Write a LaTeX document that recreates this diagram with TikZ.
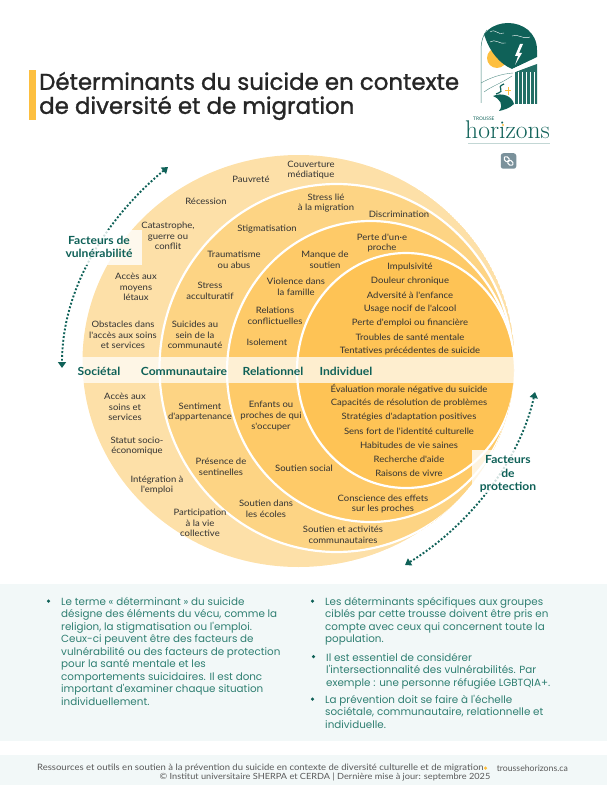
\documentclass[tikz,border=0pt]{standalone}
\usepackage{fontspec}
\usetikzlibrary{arrows.meta}
\newfontfamily\lblfont[FakeStretch=1.08]{Lato}
\newfontfamily\footfont{Lato}
\newfontfamily\titlefont[FakeBold=1.2]{Poppins}
\newfontfamily\bodyfont{Poppins}
\definecolor{teal1}{HTML}{0F6158}
\definecolor{bodyteal}{HTML}{2F7F72}
\definecolor{ringA}{HTML}{FDE0A8}
\definecolor{ringB}{HTML}{FDD484}
\definecolor{ringC}{HTML}{FECA68}
\definecolor{ringD}{HTML}{FEC355}
\definecolor{panel}{HTML}{F2F8F8}
\definecolor{orangebar}{HTML}{FDBF3F}
\definecolor{linkgrey}{HTML}{7A919B}
\tikzset{
  lbl/.style={font=\lblfont\fontsize{8.8}{10.6}\selectfont,align=center,text=black!80,inner sep=0pt},
  lvl/.style={font=\lblfont\bfseries\fontsize{11.2}{13}\selectfont,text=teal1,inner sep=0pt},
  fac/.style={font=\lblfont\bfseries\fontsize{11.2}{13.2}\selectfont,align=center,text=teal1,inner sep=0pt},
  para/.style={font=\bodyfont\fontsize{10.35}{12.5}\selectfont,align=left,text=bodyteal,inner sep=0pt,anchor=north west},
  bul/.style={circle,fill=teal1,inner sep=0pt,minimum size=3.5pt},
  foot/.style={font=\lblfont\fontsize{8.8}{9.5}\selectfont,text=black!65,inner sep=0pt},
  ringline/.style={draw=white,line width=2.2pt},
  dotarrow/.style={teal1,line width=1.9pt,dash pattern=on 1.9pt off 1.9pt,{Triangle[length=6pt,width=8pt]}-{Triangle[length=6pt,width=8pt]}},
}
\begin{document}
\begin{tikzpicture}[x=1pt,y=-1pt]
\useasboundingbox (0,0) rectangle (607,786);
% panels
\fill[panel] (0,584) rectangle (607,741);
\fill[panel] (0,755) rectangle (607,785);
% title
\fill[orangebar] (29,70) rectangle (36,120);
\node[font=\titlefont\fontsize{22.9}{24}\selectfont,align=left,text=black!85,inner sep=0pt,anchor=west] (title) at (39,96) {Déterminants du suicide en contexte\\de diversité et de migration};
% disc
\begin{scope}
\clip (298.5,361) ellipse [x radius=216pt,y radius=206pt];
\fill[ringA] (298.5,361) ellipse [x radius=216pt,y radius=206pt];
\path[fill=ringB,ringline] (336.5,368) ellipse [x radius=177pt,y radius=184pt];
\path[fill=ringC,ringline] (370.5,371.5) ellipse [x radius=143.5pt,y radius=150.5pt];
\path[fill=ringD,ringline] (406,370.5) ellipse [x radius=109pt,y radius=117.5pt];
\end{scope}
\fill[white,opacity=.72] (82,357) rectangle (515,383);
% arrows
\coordinate (va) at (168,167);
\coordinate (vb) at (62,368);
\coordinate (pa) at (535,392);
\coordinate (pb) at (405,565);
\draw[dotarrow] (va) .. controls (110,215) and (62,285) .. (vb);
\draw[dotarrow] (pa) .. controls (520,460) and (470,525) .. (pb);
\fill[white,opacity=.8] (60,230) rectangle (142,265);
\fill[white,opacity=.8] (472,450) rectangle (545,493);
\node[fac] (fv) at (99,247) {Facteurs de\\vulnérabilité};
\node[fac] (fp) at (508,474) {Facteurs\\de\\protection};
% levels
\node[lvl] (l1) at (99,371) {Sociétal};
\node[lvl] (l2) at (184,371) {Communautaire};
\node[lvl] (l3) at (273,371) {Relationnel};
\node[lvl] (l4) at (346,371) {Individuel};
% upper labels
\node[lbl] (a1) at (311,170) {Couverture\\médiatique};
\node[lbl] (a2) at (251,179) {Pauvreté};
\node[lbl] (a3) at (206,201) {Récession};
\node[lbl] (a4) at (168,236) {Catastrophe,\\guerre ou\\conflit};
\node[lbl] (a5) at (136,287) {Accès aux\\moyens\\létaux};
\node[lbl] (a6) at (123,335) {Obstacles dans\\l'accès aux soins\\et services};
\node[lbl] (b1) at (326,203) {Stress lié\\à la migration};
\node[lbl] (b2) at (399,214) {Discrimination};
\node[lbl] (b3) at (267,229) {Stigmatisation};
\node[lbl] (b4) at (234,260) {Traumatisme\\ou abus};
\node[lbl] (b5) at (210,291) {Stress\\acculturatif};
\node[lbl] (b6) at (195,335) {Suicides au\\sein de la\\communauté};
\node[lbl] (c1) at (382,243) {Perte d'un·e\\proche};
\node[lbl] (c2) at (325,260) {Manque de\\soutien};
\node[lbl] (c3) at (296,287) {Violence dans\\la famille};
\node[lbl] (c4) at (275,316) {Relations\\conflictuelles};
\node[lbl] (c5) at (267,342) {Isolement};
\node[lbl] (d1) at (410,267) {Impulsivité};
\node[lbl] (d2) at (410,281) {Douleur chronique};
\node[lbl] (d3) at (410,295) {Adversité à l'enfance};
\node[lbl] (d4) at (410,309) {Usage nocif de l'alcool};
\node[lbl] (d5) at (410,323) {Perte d'emploi ou financière};
\node[lbl] (d6) at (410,337) {Troubles de santé mentale};
\node[lbl] (d7) at (410,351) {Tentatives précédentes de suicide};
% lower labels
\node[lbl] (e1) at (125,407) {Accès aux\\soins et\\services};
\node[lbl] (e2) at (137,446) {Statut socio-\\économique};
\node[lbl] (e3) at (157,485) {Intégration à\\l'emploi};
\node[lbl] (e4) at (200,523) {Participation\\à la vie\\collective};
\node[lbl] (f1) at (200,412) {Sentiment\\d'appartenance};
\node[lbl] (f2) at (221,467) {Présence de\\sentinelles};
\node[lbl] (f3) at (266,509) {Soutien dans\\les écoles};
\node[lbl] (f4) at (343,535) {Soutien et activités\\communautaires};
\node[lbl] (g1) at (271,416) {Enfants ou\\proches de qui\\s'occuper};
\node[lbl] (g2) at (304,468) {Soutien social};
\node[lbl] (g3) at (383,504) {Conscience des effets\\sur les proches};
\node[lbl] (h1) at (409,389) {Évaluation morale négative du suicide};
\node[lbl] (h2) at (409,403) {Capacités de résolution de problèmes};
\node[lbl] (h3) at (409,417) {Stratégies d'adaptation positives};
\node[lbl] (h4) at (409,431) {Sens fort de l'identité culturelle};
\node[lbl] (h5) at (409,445) {Habitudes de vie saines};
\node[lbl] (h6) at (409,459) {Recherche d'aide};
\node[lbl] (h7) at (409,473) {Raisons de vivre};
% paragraphs
\node[bul] (b-1) at (48.5,601) {};
\node[para] (p1) at (61,597) {Le terme « déterminant » du suicide\\désigne des éléments du vécu, comme la\\religion, la stigmatisation ou l'emploi.\\Ceux-ci peuvent être des facteurs de\\vulnérabilité ou des facteurs de protection\\pour la santé mentale et les\\comportements suicidaires. Il est donc\\important d'examiner chaque situation\\individuellement.};
\node[bul] (b-2) at (312.5,601) {};
\node[para] (p2) at (325,597) {Les déterminants spécifiques aux groupes\\ciblés par cette trousse doivent être pris en\\compte avec ceux qui concernent toute la\\population.};
\node[bul] (b-3) at (313.5,656.5) {};
\node[para] (p3) at (326,653) {Il est essentiel de considérer\\l'intersectionnalité des vulnérabilités. Par\\exemple : une personne réfugiée LGBTQIA+.};
\node[bul] (b-4) at (312.5,699) {};
\node[para] (p4) at (325,695) {La prévention doit se faire à l'échelle\\sociétale, communautaire, relationnelle et\\individuelle.};
% footer
\node[foot,anchor=west] (ft1) at (37,768) {Ressources et outils en soutien à la prévention du suicide en contexte de diversité culturelle et de migration};
\node[circle,fill=orangebar,inner sep=0pt,minimum size=3.5pt] (ftdot) at (485.5,768) {};
\node[foot,font=\footfont\fontsize{8.7}{9.5}\selectfont,anchor=east] (ft2) at (568,768) {troussehorizons.ca};
\node[foot,font=\lblfont\fontsize{8.5}{9.5}\selectfont] (ft3) at (325,777.5) {© Institut universitaire SHERPA et CERDA | Dernière mise à jour: septembre 2025};
% logo
\begin{scope}
\clip (479,104) -- (479,50) .. controls (479,32) and (494,23) .. (508,23) .. controls (522,23) and (537,32) .. (537,50) -- (537,104) -- cycle;
\fill[orangebar] (497,58) circle (10pt);
\fill[teal1] (537,57) -- (512,69) .. controls (500,64) and (490,52) .. (485,37) -- (482,30) -- (490,18) -- (537,18) -- cycle;
\fill[teal1!92] (515,72) -- (537,64) -- (537,104) -- (515,104) -- cycle;
\foreach \xx in {518,522,526,530,534} \draw[white,line width=.35pt] (\xx,72) -- (\xx,104);
\draw[white,line width=.4pt] (490,32) .. controls (496,28) and (498,36) .. (504,33) (512,36) .. controls (518,33) and (522,40) .. (530,37) (490,42) .. controls (495,38) and (500,45) .. (506,43);
\fill[white] (520,44) -- (515,56) -- (518,56) -- (515,65) -- (522,53) -- (519,53) -- (523,44) -- cycle;
\fill[white] (510,70) -- (537,58) -- (537,63) -- (515,72) -- cycle;
\draw[teal1!70,line width=.4pt] (481,83) .. controls (490,78) and (500,74) .. (513,73) (484,92) .. controls (492,86) and (500,84) .. (512,76);
\draw[teal1,line width=1.2pt] (504,84) .. controls (494,88) and (508,90) .. (496,94);
\draw[orangebar,line width=.5pt] (508,87) -- (508,95) (505,90) -- (511,90);
\end{scope}
\draw[teal1!80,line width=.5pt] (481,103) -- (481,50) .. controls (481,40) and (484,34) .. (487,30);
\fill[teal1] (493,96) .. controls (502,92) and (512,96) .. (514,104) .. controls (510,108) and (504,110) .. (499,111) .. controls (504,105) and (500,99) .. (493,96) -- cycle;
\node[font=\footfont\fontsize{4.8}{6}\selectfont,text=teal1,inner sep=0pt,anchor=west] (lg1) at (473,118.3) {TROUSSE};
\node[font=\rmfamily\fontsize{25.6}{26}\selectfont,text=teal1,inner sep=0pt,anchor=base west] (lg2) at (465,139) {horizons};
\fill[orangebar] (503,125) circle (1.1pt);
\draw[teal1!25,line width=.5pt] (468,143) -- (550,143);
% link icon
\node[fill=linkgrey,rounded corners=2.5pt,minimum width=15.5pt,minimum height=15.5pt,inner sep=0pt] (link) at (508.5,161) {};
\draw[white,line width=1pt,rotate around={-45:(508.5,161)},rounded corners=1.5pt] (503,159) rectangle (509,163);
\draw[white,line width=1pt,rotate around={-45:(508.5,161)},rounded corners=1.5pt] (508,159) rectangle (514,163);
\end{tikzpicture}
\end{document}
